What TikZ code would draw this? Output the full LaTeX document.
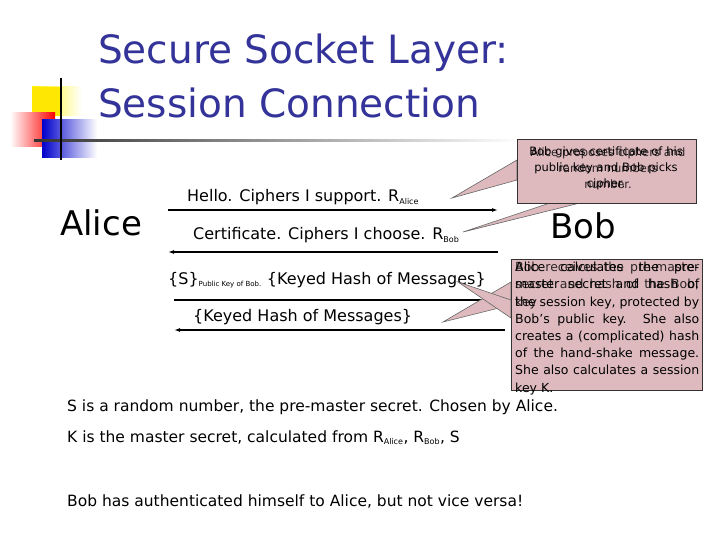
\documentclass[tikz,border=0pt]{standalone}
\usepackage{fontspec}
\setmainfont{DejaVu Sans}
\usetikzlibrary{arrows.meta}
\begin{document}
\begin{tikzpicture}[x=1pt,y=-1pt,
  msg/.style={anchor=base west,inner sep=0pt,font=\fontsize{16}{18}\selectfont},
  body/.style={anchor=base west,inner sep=0pt,font=\fontsize{15.5}{18}\selectfont},
  call/.style={draw=black!80,fill=callfill,line width=0.6pt},
  arr/.style={line width=1.4pt,-{Latex[length=6pt,width=4pt]}}]
\definecolor{callfill}{RGB}{222,186,190}
\definecolor{tblue}{RGB}{51,51,153}
\useasboundingbox (0,0) rectangle (720,540);
\fill[white] (0,0) rectangle (720,540);
% decoration
\fill[left color=yellow!90!orange,right color=white] (32,87) rectangle (82,116);
\fill[yellow!90!orange] (32,87) rectangle (60,116);
\fill[left color=white,right color=red] (10,113) rectangle (55,147);
\fill[left color=blue!80!black,right color=white] (42,120) rectangle (97,158);
\fill[left color=black!80,right color=white] (34,140) rectangle (520,142);
\draw[line width=1.4pt] (61,78) -- (61,160);
% title
\node[anchor=base west,inner sep=0pt,text=tblue,font=\fontsize{39}{40}\selectfont] (t1) at (98,64) {Secure Socket Layer:};
\node[anchor=base west,inner sep=0pt,text=tblue,font=\fontsize{39}{40}\selectfont] (t2) at (98,118) {Session Connection};
% parties
\node[anchor=base west,inner sep=0pt,font=\fontsize{34}{36}\selectfont] (alice) at (60,236) {Alice};
\node[anchor=base west,inner sep=0pt,font=\fontsize{34}{36}\selectfont] (bob) at (550,238) {Bob};
% arrows
\coordinate (a1) at (168,210); \coordinate (b1) at (498,210);
\coordinate (a2) at (168,252); \coordinate (b2) at (498,252);
\coordinate (a3) at (174,300); \coordinate (b3) at (505,300);
\coordinate (a4) at (174,330); \coordinate (b4) at (505,330);
\draw[arr] (a1) -- (b1);
\draw[arr] (b2) -- (a2);
\draw[arr] (a3) -- (b3);
\draw[arr] (b4) -- (a4);
\node[msg] (m1) at (187,202) {Hello. Ciphers I support. R\textsubscript{\footnotesize Alice}};
\node[msg] (m2) at (193,240) {Certificate. Ciphers I choose. R\textsubscript{\footnotesize Bob}};
\node[msg] (m3) at (168,284) {\{S\}\textsubscript{\scriptsize Public Key of Bob.} \{Keyed Hash of Messages\}};
\node[msg] (m4) at (193,321) {\{Keyed Hash of Messages\}};
% callout 1
\fill[call,draw=black!60] (517,160) -- (452,198) -- (517,180) -- cycle;
\fill[call,draw=black!60] (550,203) -- (463,232) -- (580,203) -- cycle;
\node[call,minimum width=179pt,minimum height=64pt,anchor=north west] (c1) at (517,139) {};
\node[align=center,font=\fontsize{11.5}{16}\selectfont,text width=172pt] (c1a) at (606,168) {Bob gives certificate of his\\ public key and Bob picks\\ cipher.};
\node[align=center,font=\fontsize{11.5}{16}\selectfont,text width=172pt,opacity=0.8] (c1b) at (608,168) {Alice proposes ciphers and\\ random numbers\\ number.};
% callout 2
\fill[call,draw=black!60] (511,282) -- (443,322) -- (511,305) -- cycle;
\fill[call,draw=black!60] (511,318) -- (458,282) -- (511,300) -- cycle;
\node[call,minimum width=191pt,minimum height=131pt,anchor=north west] (c2) at (511,259) {};
\node[anchor=north west,align=justify,font=\fontsize{12.5}{17.2}\selectfont,text width=184pt,inner sep=0pt] (c2a) at (515,262) {Alice calculates the pre-master secret and hash of the session key, protected by Bob's public key. She also creates a (complicated) hash of the hand-shake message. She also calculates a session key K.};
\node[anchor=north west,align=justify,font=\fontsize{12.5}{17.2}\selectfont,text width=184pt,inner sep=0pt,opacity=0.8] (c2b) at (515,262) {Bob receives the pre-master secret and hash of the Bob, key};
% bottom text
\node[body] (s1) at (67,411) {S is a random number, the pre-master secret. Chosen by Alice.};
\node[body] (s2) at (67,442) {K is the master secret, calculated from R\textsubscript{\footnotesize Alice}, R\textsubscript{\footnotesize Bob}, S};
\node[body] (s3) at (67,506) {Bob has authenticated himself to Alice, but not vice versa!};
\end{tikzpicture}
\end{document}
